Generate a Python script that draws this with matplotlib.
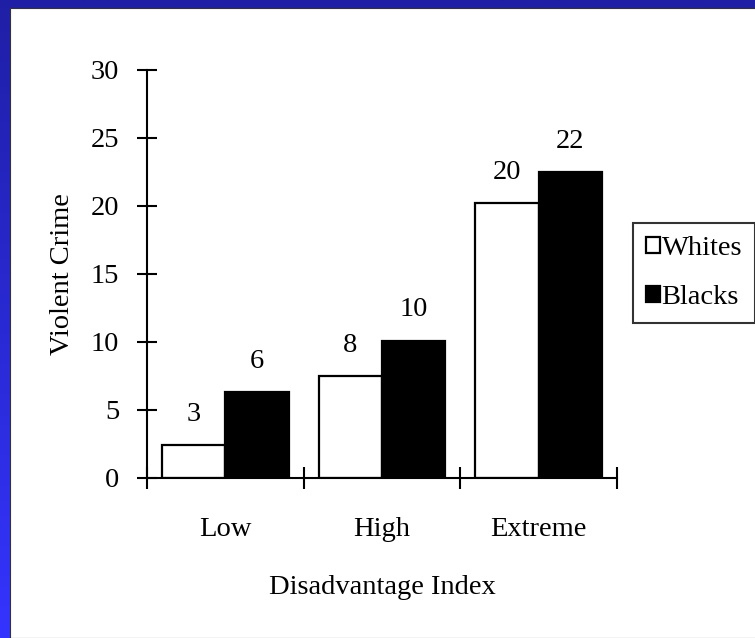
import matplotlib.pyplot as plt
import numpy as np
from matplotlib.colors import LinearSegmentedColormap
from matplotlib.patches import Rectangle

# Data
categories = ["Low", "High", "Extreme"]
whites = [2.4, 7.5, 20.2]
blacks = [6.3, 10.1, 22.5]
white_labels = ["3", "8", "20"]
black_labels = ["6", "10", "22"]

plt.rcParams["font.family"] = ["Liberation Serif", "DejaVu Serif"]
FS = 20.5

fig = plt.figure(figsize=(7.55, 6.38), dpi=100)

# Blue slide background, lighter towards the bottom left
bg = fig.add_axes([0, 0, 1, 1], zorder=-10)
grad = np.linspace(0, 1, 256).reshape(-1, 1)
bg.imshow(grad, aspect="auto", extent=[0, 1, 0, 1], origin="upper",
          cmap=LinearSegmentedColormap.from_list("slide", ["#1f1fa6", "#3434ff"]))
bg.add_patch(Rectangle((10 / 755, 0), 1, 1 - 8 / 638, facecolor="white",
                       edgecolor="#333333", linewidth=0.8))
bg.set_xlim(0, 1)
bg.set_ylim(0, 1)
bg.axis("off")

ax = fig.add_axes([0.1947, 0.2508, 0.6225, 0.6395])
ax.set_facecolor("none")

x = np.arange(len(categories))
width = 0.405
b1 = ax.bar(x - width / 2, whites, width, color="white", edgecolor="black",
            linewidth=1.6, label="Whites")
b2 = ax.bar(x + width / 2, blacks, width, color="black", edgecolor="black",
            linewidth=1.6, label="Blacks")

# value labels above the bars
for bars, labels in [(b1, white_labels), (b2, black_labels)]:
    for rect, lab in zip(bars, labels):
        ax.text(rect.get_x() + rect.get_width() / 2, rect.get_height() + 1.35, lab,
                ha="center", va="bottom", fontsize=FS)

ax.set_xlim(-0.5, 2.5)
ax.set_ylim(0, 30)
ax.set_yticks(range(0, 31, 5))
ax.set_xticks([-0.5, 0.5, 1.5, 2.5])
ax.set_xticklabels([])
ax.set_xticks(x, minor=True)
ax.set_xticklabels(categories, minor=True)
ax.tick_params(axis="x", which="major", direction="inout", length=16, width=1.5)
ax.tick_params(axis="x", which="minor", length=0, pad=28, labelsize=FS)
ax.tick_params(axis="y", direction="inout", length=14, width=1.5, labelsize=FS, pad=13)

for side in ["top", "right"]:
    ax.spines[side].set_visible(False)
for side in ["left", "bottom"]:
    ax.spines[side].set_linewidth(1.5)

ax.set_xlabel("Disadvantage Index", fontsize=FS, labelpad=24)
ax.set_ylabel("Violent Crime", fontsize=FS, labelpad=11)

leg = fig.legend(loc="upper left", bbox_to_anchor=(633 / 755, 1 - 223 / 638),
                 fontsize=FS, frameon=True, fancybox=False, edgecolor="black",
                 handlelength=0.5, handleheight=0.5, handletextpad=0.05,
                 labelspacing=0.85, borderpad=0.45, borderaxespad=0)
leg.get_frame().set_linewidth(1.5)

fig.savefig("out.png", dpi=100)
